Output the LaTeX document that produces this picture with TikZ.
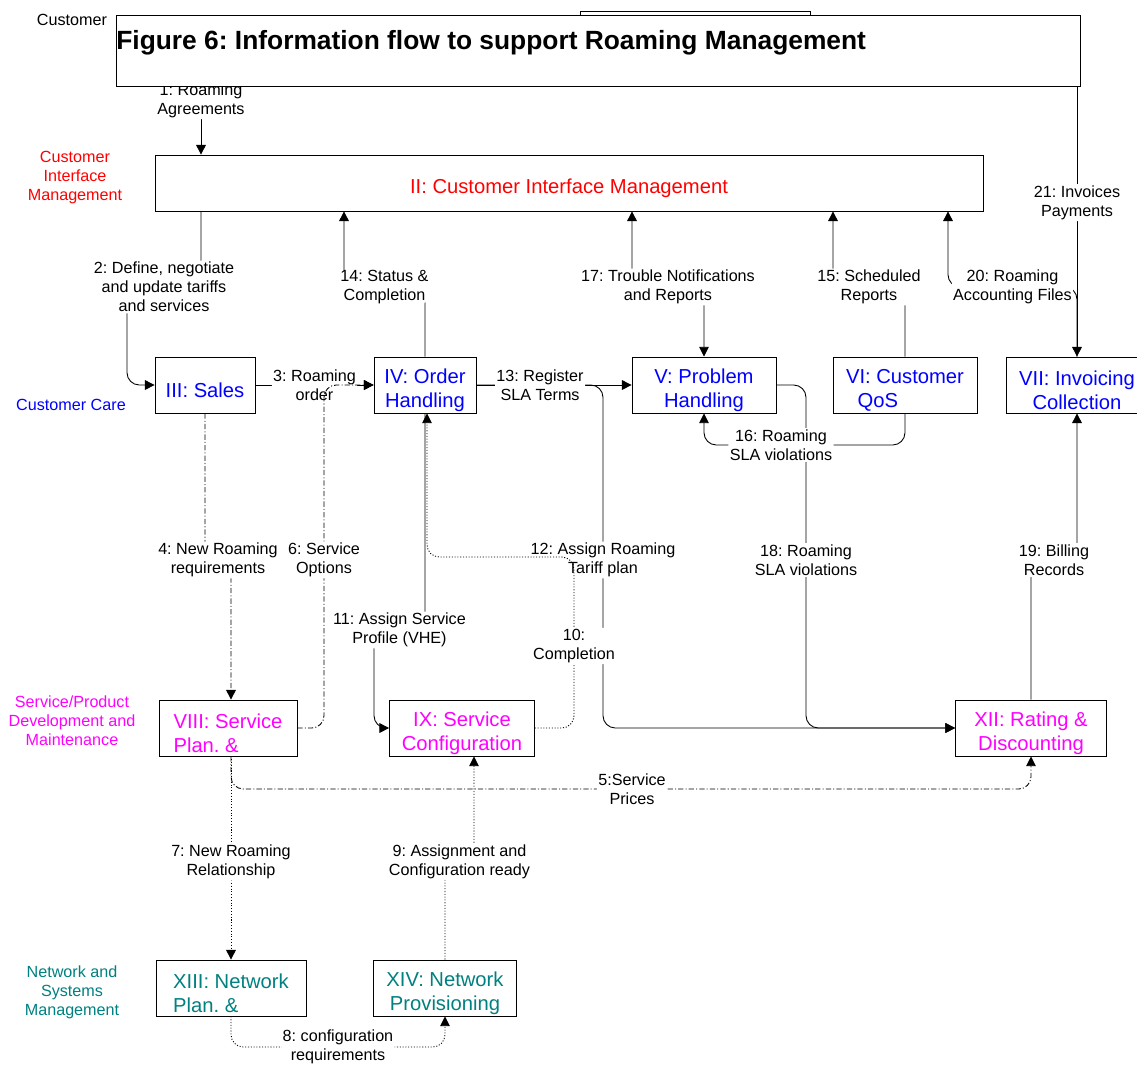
\documentclass[tikz,border=0pt]{standalone}
\usepackage{fontspec}
\setmainfont{Liberation Sans}
\usepackage{tikz}
\usetikzlibrary{arrows.meta, positioning, backgrounds}
\frenchspacing

\definecolor{careBlue}{RGB}{0,0,255}
\definecolor{cimRed}{RGB}{255,0,0}
\definecolor{devMagenta}{RGB}{255,0,255}
\definecolor{netTeal}{RGB}{0,128,128}

\newcommand{\lblfont}{\fontsize{9.2}{10.8}\selectfont}
\newcommand{\boxfont}{\fontsize{11.5}{13.6}\selectfont}
\newcommand{\boxStrut}{\rule{0pt}{14pt}}

\tikzset{
    proc/.style={draw, fill=white, rectangle, align=center, inner sep=1pt, minimum height=1.12cm, font=\boxfont, line width=0.45pt},
    lbl/.style={fill=white, align=center, inner sep=0.8pt, font=\lblfont},
    grp/.style={align=center, font=\lblfont},
    flow/.style={->, line width=0.5pt, rounded corners=7pt},
    dashDotLine/.style={dash pattern=on 3pt off 1.2pt on 0.6pt off 1.2pt},
    dottedLine/.style={dash pattern=on 0.6pt off 1pt},
}

\begin{document}
\begin{tikzpicture}[x=0.02cm, y=-0.02cm, >={Triangle[length=5.5pt, width=5.5pt]}]
    \useasboundingbox (0,0) rectangle (1137,1066);

    \node (laneCustomer) [grp] at (72,20) {Customer};
    \node (laneCim) [grp, text=cimRed] at (75,178) {Customer\\Interface\\Management};
    \node (laneCare) [grp, text=careBlue] at (71,405) {Customer Care};
    \node (laneDev) [grp, text=devMagenta] at (72,721) {Service/Product\\Development and\\Maintenance};
    \node (laneNet) [grp, text=netTeal] at (72,992) {Network and\\Systems\\Management};

    \node (customerBox) [proc, minimum width=4.6cm, minimum height=0.68cm] at (695,28) {};
    \node (titleBox) [proc, minimum width=19.28cm, minimum height=1.42cm] at (598,50.5) {};
    \node (title) [anchor=west, inner sep=0pt, font=\fontsize{15}{18}\selectfont\bfseries] at (116,43) {Figure 6: Information flow to support Roaming Management};

    \node (cim) [proc, minimum width=16.56cm, text=cimRed] at (569,183) {\boxStrut II: Customer Interface Management};

    \node (sales) [proc, minimum width=2cm, text=careBlue] at (205,385) {\boxStrut III: Sales};
    \node (orderHandling) [proc, minimum width=2.04cm, text=careBlue] at (425,385) {\boxStrut IV: Order\\Handling};
    \node (problemHandling) [proc, minimum width=2.88cm, text=careBlue] at (704,385) {\boxStrut V: Problem\\Handling};
    \node (customerQoS) [proc, minimum width=2.88cm, text=careBlue] at (905,385) {\boxStrut VI: Customer\\QoS\hspace*{31pt}};
    \node (invoicing) [proc, minimum width=2.84cm, text=careBlue] at (1077,385) {\boxStrut VII: Invoicing\\Collection};

    \node (servicePlan) [proc, minimum width=2.76cm, text=devMagenta, align=left] at (228,728) {\boxStrut VIII: Service\\Plan. \&};
    \node (serviceConfig) [proc, minimum width=2.9cm, text=devMagenta] at (462,728) {\boxStrut IX: Service\\Configuration};
    \node (rating) [proc, minimum width=3.02cm, text=devMagenta] at (1031,728) {\boxStrut XII: Rating \&\\Discounting};

    \node (networkPlan) [proc, minimum width=3cm, text=netTeal, align=left] at (231,988) {\boxStrut XIII: Network\\Plan. \&};
    \node (networkProv) [proc, minimum width=2.86cm, text=netTeal] at (445,988) {\boxStrut XIV: Network\\Provisioning};

    \begin{scope}[on background layer]
        \draw[flow] (titleBox.south -| 201,0) -- node[lbl, pos=0.21] {1: Roaming\\Agreements} (cim.north -| 201,0);
    \end{scope}

    \draw[flow] (cim.south -| 201,0) -- (201,287) -- node[lbl] {2: Define, negotiate\\and update tariffs\\and services} (127,287) |- (sales.west);
    \draw[flow] (orderHandling.north) -- (425,287) -- node[lbl] {14: Status \&\\Completion} (344,287) -- (cim.south -| 344,0);
    \draw[flow, <->] (cim.south -| 632,0) -- (632,287) -- node[lbl] {17: Trouble Notifications\\and Reports} (704,287) -- (problemHandling.north);
    \draw[flow] (customerQoS.north) -- (905,287) -- node[lbl] {15: Scheduled\\Reports} (833,287) -- (cim.south -| 833,0);
    \draw[flow] (invoicing.north) -- (1077,287) -- node[lbl] {20: Roaming\\Accounting Files} (948,287) -- (cim.south -| 948,0);
    \draw[flow] (titleBox.south -| invoicing) -- node[lbl, pos=0.43] {21: Invoices\\Payments} (invoicing.north);

    \draw[flow] (sales) -- node[lbl, pos=0.5] {3: Roaming\\order} (orderHandling);
    \draw[flow, dashDotLine] (servicePlan.east) -| (324,560) node[lbl] {6: Service\\Options} |- (orderHandling.west);
    \draw[flow, dashDotLine] (sales.south) -- (205,560) -- node[lbl] {4: New Roaming\\requirements} (231,560) -- (servicePlan.north -| 231,0);

    \draw[flow] (orderHandling.east) -| (603,560) node[lbl] {12: Assign Roaming\\Tariff plan} |- (rating.west);
    \draw[flow] (orderHandling) -- node[lbl, pos=0.41] {13: Register\\SLA Terms} (problemHandling);
    \draw[flow] (orderHandling.south) -- (425,630) -- node[lbl] {11: Assign Service\\Profile (VHE)} (374,630) |- (serviceConfig.west);
    \draw[flow, dottedLine] (serviceConfig.east) -| (574,646) node[lbl] {10:\\Completion} |- (427,557) -- (orderHandling.south -| 427,0);

    \draw[flow] (problemHandling.east) -| (806,560) node[lbl] {18: Roaming\\SLA violations} |- (rating.west);
    \draw[flow] (customerQoS.south) |- (781,445) node[lbl] {16: Roaming\\SLA violations} -| (problemHandling.south);
    \draw[flow] (rating.north) -- (1031,560) -- node[lbl] {19: Billing\\Records} (1077,560) -- (invoicing.south);

    \draw[flow, dashDotLine] (servicePlan.south -| 231,0) |- (632,789) node[lbl] {5:Service\\Prices} -| (rating.south);
    \draw[flow, dottedLine] (servicePlan.south -| 231,0) -- node[lbl, pos=0.52] {7: New Roaming\\Relationship} (networkPlan.north -| 231,0);
    \draw[flow, dottedLine] (networkProv.north) -- (445,862) -- node[lbl] {9: Assignment and\\Configuration ready} (474,862) -- (serviceConfig.south -| 474,0);
    \draw[flow, dottedLine] (networkPlan.south) |- (338,1047) node[lbl] {8: configuration\\requirements} -| (networkProv.south);
\end{tikzpicture}
\end{document}
